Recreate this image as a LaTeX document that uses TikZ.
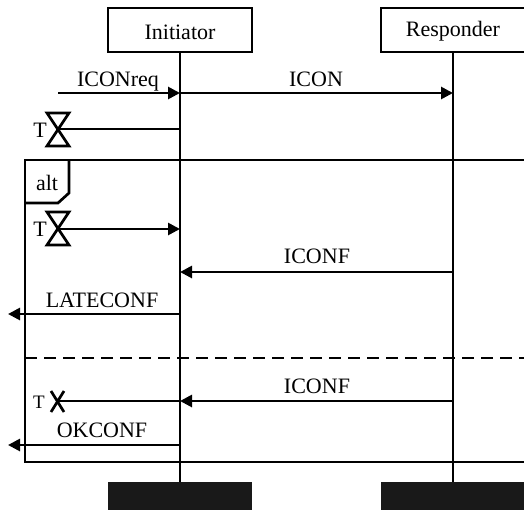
\documentclass[tikz,border=0pt]{standalone}
\usepackage{fontspec}
\setmainfont{Liberation Serif}
\usetikzlibrary{arrows.meta}
\begin{document}
\begin{tikzpicture}[x=1pt,y=-1pt,
  ln/.style={line width=2.7pt},
  msg/.style={line width=2.7pt,-{Triangle[length=12pt,width=12pt]}},
  lbl/.style={anchor=base,inner sep=0pt,font=\fontsize{22}{22}\selectfont},
  actor/.style={draw,line width=2.7pt,minimum width=144pt,minimum height=44pt,inner sep=0pt},
  endbar/.style={fill=black!90,draw=none},
  timer/.style={line width=2.7pt}]
\useasboundingbox (0,0) rectangle (524,509);
\clip (0,0) rectangle (524,509);
% actors
\node[actor] (ini) at (180,30) {};
\node[lbl] at (180,39) {Initiator};
\node[actor] (res) at (453,30) {};
\node[lbl] at (453,36) {Responder};
% end bars
\path[endbar] (108,482) rectangle (252,515);
\path[endbar] (381,482) rectangle (530,515);
\coordinate (iniend) at (180,482);
\coordinate (resend) at (453,482);
\draw[ln] (ini.south) -- (iniend);
\draw[ln] (res.south) -- (resend);
% coordinates on lifelines
\coordinate (i1) at (180,93);   \coordinate (r1) at (453,93);
\coordinate (src) at (58,93);
\coordinate (i2) at (180,129);  \coordinate (t1) at (58,129);
\coordinate (i3) at (180,229);  \coordinate (t2) at (58,229);
\coordinate (i4) at (180,272);  \coordinate (r4) at (453,272);
\coordinate (i5) at (180,314);  \coordinate (e5) at (8,314);
\coordinate (i6) at (180,401);  \coordinate (r6) at (453,401);
\coordinate (t3) at (58,401);
\coordinate (i7) at (180,445);  \coordinate (e7) at (8,445);
% alt frame
\draw[ln] (25,160) rectangle (530,462);
\draw[ln] (25,203) -- (58,203) -- (69,193) -- (69,160);
\node[lbl] at (47,190) {alt};
\draw[ln,dash pattern=on 12pt off 7pt] (25,358) -- (530,358);
% messages
\draw[msg] (src) -- (i1);
\node[lbl] at (118,86) {ICONreq};
\draw[msg] (i1) -- (r1);
\node[lbl] at (316,86) {ICON};
% timer 1
\draw[ln] (i2) -- (t1);
\draw[timer] (47,113) -- (69,113) -- (47,146) -- (69,146) -- cycle;
\node[lbl] at (40,137) {T};
% timer 2 (expiry)
\draw[msg] (t2) -- (i3);
\draw[timer] (47,212) -- (69,212) -- (47,245) -- (69,245) -- cycle;
\node[lbl] at (40,236) {T};
\draw[msg] (r4) -- (i4);
\node[lbl] at (317,263) {ICONF};
\draw[msg] (i5) -- (e5);
\node[lbl] at (102,307) {LATECONF};
% second operand
\draw[msg] (r6) -- (i6);
\node[lbl] at (317,393) {ICONF};
\draw[ln] (i6) -- (t3);
\draw[timer] (51,391) -- (64,412) (64,391) -- (51,412);
\node[lbl,font=\fontsize{19}{19}\selectfont] at (39,408) {T};
\draw[msg] (i7) -- (e7);
\node[lbl] at (102,437) {OKCONF};
\end{tikzpicture}
\end{document}
